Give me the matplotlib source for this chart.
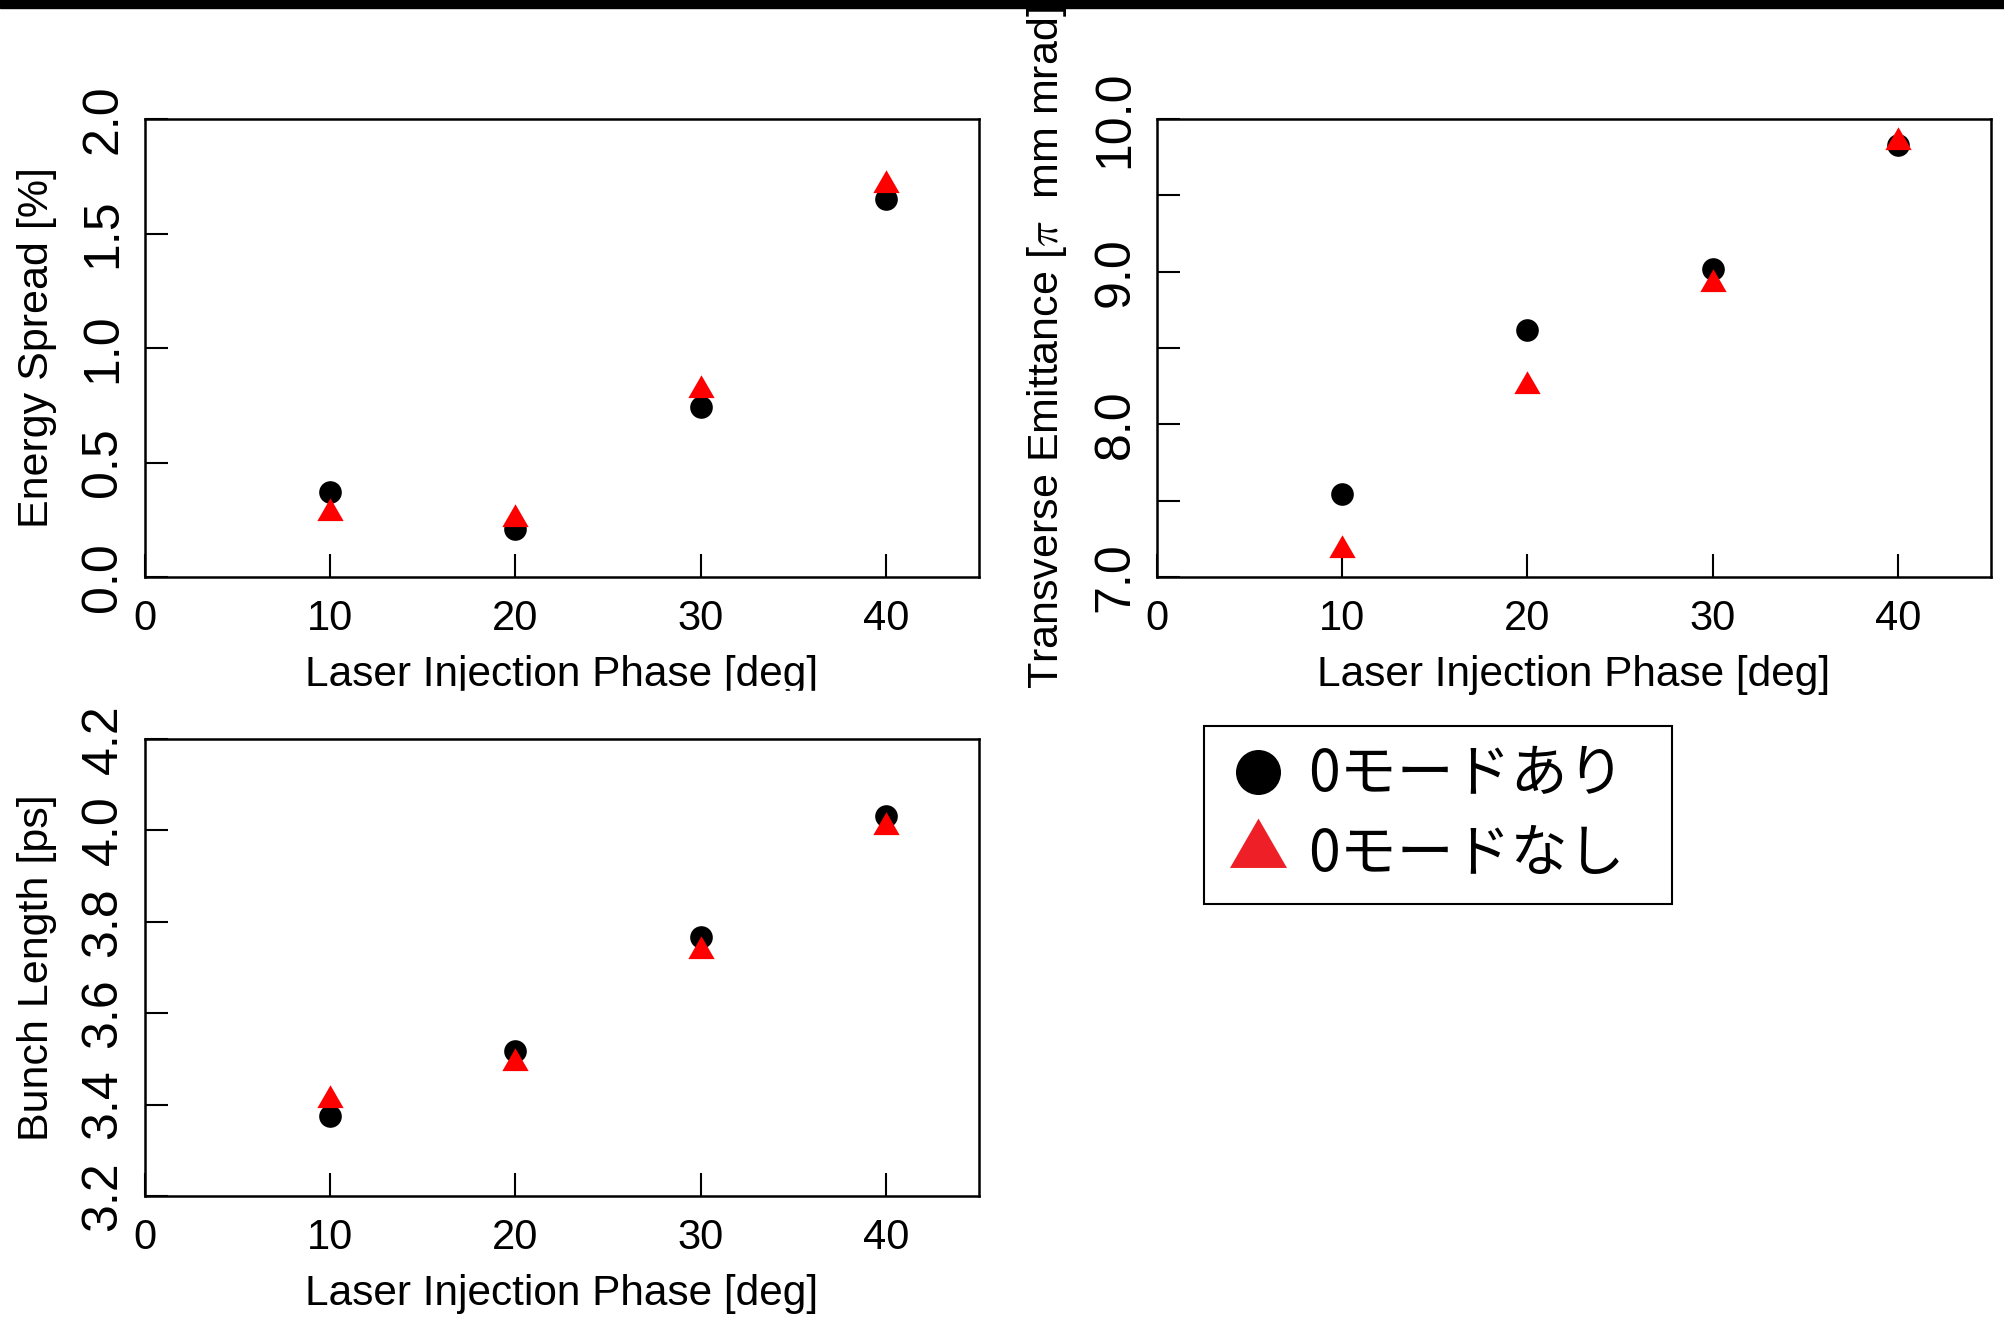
import matplotlib.pyplot as plt
from matplotlib.path import Path
from matplotlib.lines import Line2D
from matplotlib.patches import Rectangle

plt.rcParams['font.family'] = ['Liberation Sans', 'DejaVu Sans']
plt.rcParams['mathtext.fontset'] = 'cm'

phase = [10, 20, 30, 40]
xticks = [0, 10, 20, 30, 40]

# energy spread [%]
spread_with = [0.373, 0.208, 0.744, 1.651]
spread_without = [0.278, 0.254, 0.817, 1.710]
spread_ticks = [0.0, 0.5, 1.0, 1.5, 2.0]
spread_ticklabels = ['0.0', '0.5', '1.0', '1.5', '2.0']

# transverse emittance [pi mm mrad]
emit_with = [7.544, 8.618, 9.020, 9.831]
emit_without = [7.178, 8.250, 8.918, 9.852]
emit_ticks = [7.0, 7.5, 8.0, 8.5, 9.0, 9.5, 10.0]
emit_ticklabels = ['7.0', '', '8.0', '', '9.0', '', '10.0']

# bunch length [ps]
bunch_with = [3.375, 3.517, 3.767, 4.031]
bunch_without = [3.409, 3.491, 3.737, 4.008]
bunch_ticks = [3.2, 3.4, 3.6, 3.8, 4.0, 4.2]
bunch_ticklabels = ['3.2', '3.4', '3.6', '3.8', '4.0', '4.2']

legend_labels = ['0モードあり', '0モードなし']

W, H = 2004, 1319
fig = plt.figure(figsize=(W / 100, H / 100), dpi=100)

# filled triangle with its centroid on the point (R pch=17 style)
tri = Path([(0, 2 / 3), (-0.577, -1 / 3), (0.577, -1 / 3), (0, 2 / 3)],
           [Path.MOVETO, Path.LINETO, Path.LINETO, Path.CLOSEPOLY])

narrow = ['Liberation Sans Narrow', 'Liberation Sans', 'DejaVu Sans']


def panel(rect_px, ylim, yticks, yticklabels, ylabel, y_with, y_without):
    left, top, right, bottom = rect_px
    ax = fig.add_axes([left / W, 1 - bottom / H, (right - left) / W, (bottom - top) / H])
    ax.plot(phase, y_with, ls='none', marker='o', ms=16.3, mew=0, color='black', clip_on=False)
    ax.plot(phase, y_without, ls='none', marker=tri, ms=21.9, mew=0, color='#ff0000', clip_on=False)
    ax.set_xlim(0, 45)
    ax.set_ylim(*ylim)
    ax.set_xticks(xticks)
    ax.set_yticks(yticks)
    ax.set_yticklabels(yticklabels, rotation=90, va='center', family=narrow, fontsize=36)
    ax.tick_params(direction='in', length=16.5, width=1.5, top=False, right=False)
    ax.tick_params(axis='x', labelsize=30, pad=16)
    ax.tick_params(axis='y', pad=13)
    for s in ax.spines.values():
        s.set_linewidth(1.8)
    ax.set_xlabel('Laser Injection Phase [deg]', fontsize=30.5)
    ax.xaxis.set_label_coords(0.5, -0.17)
    ax.set_ylabel(ylabel, fontsize=31)
    ax.yaxis.set_label_coords(-0.105, 0.5)
    return ax


panel((144.5, 119, 979, 577), (0, 2), spread_ticks, spread_ticklabels,
      'Energy Spread [%]', spread_with, spread_without)
panel((1156.5, 119, 1991, 577), (7, 10), emit_ticks, emit_ticklabels,
      r'Transverse Emittance [$\pi$  mm mrad]', emit_with, emit_without)
panel((144.5, 739, 979, 1196), (3.2, 4.2), bunch_ticks, bunch_ticklabels,
      'Bunch Length [ps]', bunch_with, bunch_without)

handles = [Line2D([], [], ls='none', marker='o', ms=32.4, mew=0, color='black'),
           Line2D([], [], ls='none', marker=tri, ms=47.4, mew=0, color='#ee1f26')]
leg = fig.legend(handles, legend_labels, loc='upper left',
                 bbox_to_anchor=(1204 / W, 1 - 901 / H, 468 / W, 175 / H), mode='expand',
                 borderaxespad=0, borderpad=0.35, labelspacing=0.37,
                 handlelength=1.19, handletextpad=0.28, fancybox=False, framealpha=1,
                 edgecolor='black', prop={'family': ['Noto Sans CJK JP', 'DejaVu Sans'], 'size': 41})
leg.get_frame().set_linewidth(1.5)

# strip of the lower panel covering the bottom of the first x label, and the black top bar
fig.add_artist(Rectangle((0, 1 - 706 / H), 1000 / W, 15 / H, transform=fig.transFigure,
                         color='white', zorder=9))
fig.add_artist(Rectangle((0, 1 - 8 / H), 1, 8 / H, transform=fig.transFigure,
                         color='black', zorder=10))

fig.savefig('out.png', dpi=100, facecolor='white')
